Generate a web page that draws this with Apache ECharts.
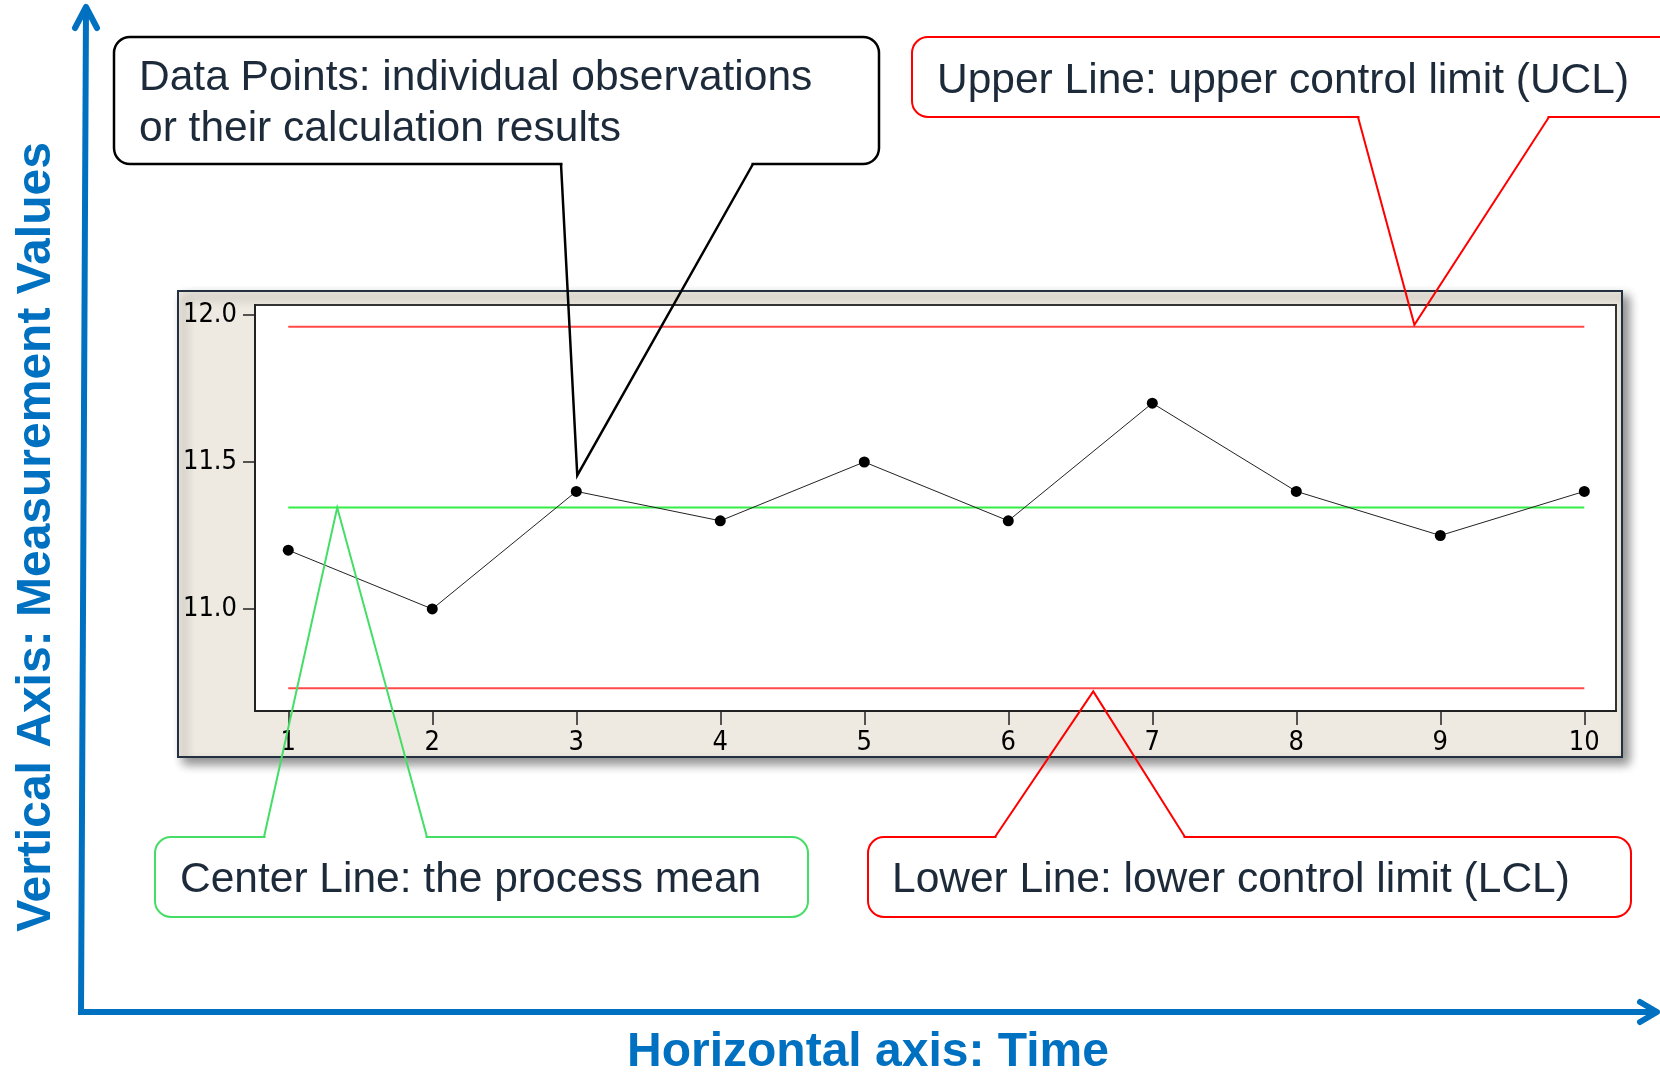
<!DOCTYPE html>
<html>
<head>
<meta charset="utf-8">
<script src="https://cdn.jsdelivr.net/npm/echarts@6/dist/echarts.min.js"></script>
<style>
  html, body { margin: 0; padding: 0; background: #fff; }
  #chart { width: 1660px; height: 1074px; }
</style>
</head>
<body>
<div id="chart"></div>
<script>
// sample number on the time axis and the measured value of each sample
var samples = [1, 2, 3, 4, 5, 6, 7, 8, 9, 10];
var values = [11.2, 11.0, 11.4, 11.3, 11.5, 11.3, 11.7, 11.4, 11.25, 11.4];
// control limits
var ucl = 11.96;
var centerLine = 11.345;
var lcl = 10.73;
// tick labels
var xTicks = [1, 2, 3, 4, 5, 6, 7, 8, 9, 10];
var yTicks = [11.0, 11.5, 12.0];

var tickFont = '"DejaVu Sans Condensed", "DejaVu Sans", sans-serif';
var textFont = '"Liberation Sans", Arial, sans-serif';
var blue = '#0070C0';
var ink = '#1c2a3a';

function limitLine(v) {
  return [[samples[0], v], [samples[samples.length - 1], v]];
}

var points = samples.map(function (s, i) { return [s, values[i]]; });

var chartDom = document.getElementById('chart');
var myChart = echarts.init(chartDom);

var option = {
  animation: false,
  backgroundColor: '#fff',
  grid: {
    left: 255, top: 305, right: 44, bottom: 363,
    show: true,
    backgroundColor: '#fff',
    borderColor: '#333',
    borderWidth: 2
  },
  xAxis: {
    type: 'value',
    min: 0.769,
    max: 10.22,
    axisLine: { show: true, onZero: false, lineStyle: { color: '#222', width: 2 } },
    axisTick: { show: true, customValues: xTicks, length: 14, lineStyle: { color: '#222', width: 1.5 } },
    axisLabel: { customValues: xTicks, margin: 18, color: '#000', fontSize: 27, fontFamily: tickFont },
    splitLine: { show: false }
  },
  yAxis: {
    type: 'value',
    min: 10.653,
    max: 12.034,
    axisLine: { show: true, onZero: false, lineStyle: { color: '#222', width: 2 } },
    axisTick: { show: true, customValues: yTicks, length: 12, lineStyle: { color: '#222', width: 1.5 } },
    axisLabel: {
      customValues: yTicks, margin: 18, color: '#000', fontSize: 27, fontFamily: tickFont,
      formatter: function (v) { return v.toFixed(1); }
    },
    splitLine: { show: false }
  },
  series: [
    {
      name: 'UCL', type: 'line', data: limitLine(ucl), symbol: 'none',
      lineStyle: { color: '#ff4a4a', width: 2 }, z: 3
    },
    {
      name: 'LCL', type: 'line', data: limitLine(lcl), symbol: 'none',
      lineStyle: { color: '#ff4a4a', width: 2 }, z: 3
    },
    {
      name: 'CL', type: 'line', data: limitLine(centerLine), symbol: 'none',
      lineStyle: { color: '#33ee44', width: 2 }, z: 3
    },
    {
      name: 'Measurement', type: 'line', data: points,
      symbol: 'circle', symbolSize: 11,
      itemStyle: { color: '#000' },
      lineStyle: { color: '#222', width: 1 }, z: 4
    }
  ]
};
myChart.setOption(option);

// callout boxes: box in pixels, pointer apex tied to a data position
var callouts = [
  {
    text: 'Data Points: individual observations\nor their calculation results',
    color: '#000', width: 2.5,
    box: [114, 37, 765, 127], textAt: [139, 104], bases: [561, 753], baseEdge: 'bottom',
    anchor: [samples[2], values[2]], shift: [1, -16]
  },
  {
    text: 'Upper Line: upper control limit (UCL)',
    color: '#ff0000', width: 2,
    box: [912, 37, 800, 80], textAt: [937, 81], bases: [1358, 1549], baseEdge: 'bottom',
    anchor: [8.82, ucl], shift: [0, -2]
  },
  {
    text: 'Center Line: the process mean',
    color: '#44dd66', width: 2,
    box: [155, 837, 653, 80], textAt: [180, 880], bases: [264, 427], baseEdge: 'top',
    anchor: [1.34, centerLine], shift: [0, 0]
  },
  {
    text: 'Lower Line: lower control limit (LCL)',
    color: '#ff0000', width: 2,
    box: [868, 837, 763, 80], textAt: [892, 880], bases: [995, 1185], baseEdge: 'top',
    anchor: [6.59, lcl], shift: [0, 3]
  }
];

var elements = [];

// beige panel behind the plot area
elements.push({
  type: 'rect', z: -5,
  shape: { x: 178, y: 291, width: 1444, height: 466 },
  style: {
    fill: '#eeeae1', stroke: '#22303f', lineWidth: 2,
    shadowBlur: 10, shadowOffsetX: 6, shadowOffsetY: 6, shadowColor: 'rgba(0,0,0,0.45)'
  }
});

// blue axes with arrow heads
elements.push({
  type: 'polyline', z: 50,
  shape: { points: [[86, 8], [81, 1012], [1655, 1012]] },
  style: { stroke: blue, lineWidth: 6, fill: null, lineJoin: 'miter' }
});
elements.push({
  type: 'polyline', z: 50,
  shape: { points: [[75, 28], [86, 7], [97, 28]] },
  style: { stroke: blue, lineWidth: 6, fill: null, lineCap: 'round', lineJoin: 'round' }
});
elements.push({
  type: 'polyline', z: 50,
  shape: { points: [[1640, 1002], [1657, 1012], [1640, 1022]] },
  style: { stroke: blue, lineWidth: 6, fill: null, lineCap: 'round', lineJoin: 'round' }
});
elements.push({
  type: 'text', z: 50, x: 37, y: 537, rotation: Math.PI / 2,
  style: {
    text: 'Vertical Axis: Measurement Values', fill: blue,
    fontSize: 48, fontWeight: 'bold', fontFamily: textFont,
    align: 'center', verticalAlign: 'middle'
  }
});
elements.push({
  type: 'text', z: 50, x: 868, y: 1053,
  style: {
    text: 'Horizontal axis: Time', fill: blue,
    fontSize: 48, fontWeight: 'bold', fontFamily: textFont,
    align: 'center', verticalAlign: 'middle'
  }
});

callouts.forEach(function (c) {
  var b = c.box;
  var edgeY = c.baseEdge === 'bottom' ? b[1] + b[3] : b[1];
  var p = myChart.convertToPixel({ seriesIndex: 0 }, c.anchor);
  var apex = [p[0] + c.shift[0], p[1] + c.shift[1]];
  elements.push({
    type: 'rect', z: 60,
    shape: { x: b[0], y: b[1], width: b[2], height: b[3], r: 16 },
    style: { fill: '#fff', stroke: c.color, lineWidth: c.width }
  });
  // open the border where the pointer leaves the box
  elements.push({
    type: 'line', z: 61,
    shape: { x1: c.bases[0] + 1.5, y1: edgeY, x2: c.bases[1] - 1.5, y2: edgeY },
    style: { stroke: '#fff', lineWidth: c.width + 2 }
  });
  elements.push({
    type: 'polyline', z: 62,
    shape: { points: [[c.bases[0], edgeY], apex, [c.bases[1], edgeY]] },
    style: { stroke: c.color, lineWidth: c.width, fill: null, lineJoin: 'miter' }
  });
  elements.push({
    type: 'text', z: 63, x: c.textAt[0], y: c.textAt[1],
    style: {
      text: c.text, fill: ink, fontSize: 42.5, lineHeight: 51, fontFamily: textFont,
      align: 'left', verticalAlign: 'middle'
    }
  });
});

myChart.setOption({ graphic: { elements: elements } });
</script>
</body>
</html>
